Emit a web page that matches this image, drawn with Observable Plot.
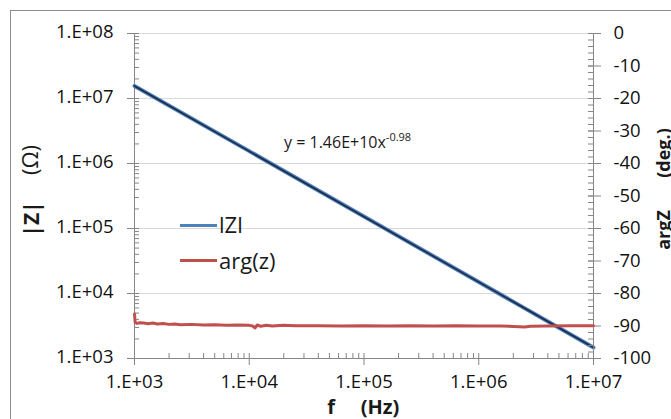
<!DOCTYPE html>
<html><head><meta charset="utf-8">
<script src="https://cdn.jsdelivr.net/npm/d3@7"></script>
<script src="https://cdn.jsdelivr.net/npm/@observablehq/plot@0.6"></script>
<style>
body{margin:0;background:#fff;font-family:"Open Sans",sans-serif;}
#wrap{position:relative;width:671px;height:419px;overflow:hidden;background:#fff;}
#wrap svg{position:absolute;left:0;top:0;}
.abs{position:absolute;white-space:pre;color:#1a1a1a;line-height:1;}
.border{position:absolute;left:10px;top:10px;width:800px;height:600px;border:1.5px solid #8c8c8c;}
.sw{position:absolute;height:3px;width:37px;}
</style></head><body><div id="wrap"><div class="border"></div></div><script>
// |Z| data
const zFreq = [1e3, 1e4, 1e5, 1e6, 1e7];
const zMag = [1.56e7, 1.55e6, 1.53e5, 1.5e4, 1.48e3];
// power-law trendline as drawn
const trendFreq = [1e3, 1e7];
const trendMag = [1.56e7, 1.48e3];
// arg(z) data (deg.)
const argFreq = [1000, 1012, 1047, 1122, 1202, 1318, 1445, 1585, 1778, 1995,
  2239, 2512, 3162, 3981, 5012, 6310, 7943, 10000, 10720, 11220,
  11750, 12590, 14130, 15850, 19950, 25120, 39810, 63100, 100000, 158500,
  251200, 398100, 631000, 1000000, 1585000, 2512000, 2818000, 3981000, 6310000, 10000000];
const argDeg = [-86.3, -88.8, -89.2, -89.0, -89.1, -89.3, -89.1, -89.4, -89.2, -89.5,
  -89.4, -89.6, -89.5, -89.7, -89.6, -89.8, -89.7, -89.8, -90.0, -90.6,
  -89.7, -90.1, -89.8, -90.0, -89.8, -89.9, -89.9, -90.0, -89.9, -90.0,
  -89.9, -90.0, -89.9, -90.0, -90.0, -90.3, -90.1, -90.0, -89.9, -89.9];
// ticks
const xTicks = [1e3, 1e4, 1e5, 1e6, 1e7];
const xTickLabels = ["1.E+03", "1.E+04", "1.E+05", "1.E+06", "1.E+07"];
const zTicks = [1e3, 1e4, 1e5, 1e6, 1e7, 1e8];
const zTickLabels = ["1.E+03", "1.E+04", "1.E+05", "1.E+06", "1.E+07", "1.E+08"];
const argTicks = [0, -10, -20, -30, -40, -50, -60, -70, -80, -90, -100];
const argTickLabels = ["0", "-10", "-20", "-30", "-40", "-50", "-60", "-70", "-80", "-90", "-100"];

const minorLog = (lo, hi) => { const r = []; for (let d = lo; d < hi; d *= 10) for (let k = 2; k <= 9; k++) r.push(d * k); return r; };
const xMinor = minorLog(1e3, 1e7);
const zMinor = minorLog(1e3, 1e8);
const argMinor = d3.range(-100, 0.1, 2);

const zTable = zFreq.map((f, i) => ({f, z: zMag[i]}));
const trendTable = trendFreq.map((f, i) => ({f, z: trendMag[i]}));
const argTable = argFreq.map((f, i) => ({f, a: argDeg[i]}));
const xLabTable = xTicks.map((v, i) => ({v, t: xTickLabels[i]}));
const zLabTable = zTicks.map((v, i) => ({v, t: zTickLabels[i]}));
const aLabTable = argTicks.map((v, i) => ({v, t: argTickLabels[i]}));

const AX = "#868686", TXT = "#111";
const common = {width: 671, height: 419, marginLeft: 134, marginRight: 78, marginTop: 33, marginBottom: 61,
  style: {fontFamily: '"Open Sans", sans-serif', fontSize: "18px", background: "transparent", overflow: "visible"}};
const none = () => "";

const p1 = Plot.plot({...common,
  x: {type: "log", domain: [1e3, 1e7]},
  y: {type: "log", domain: [1e3, 1e8]},
  marks: [
    Plot.ruleY(zTicks.slice(1), {stroke: "#d9d9d9", strokeWidth: 1}),
    Plot.ruleX([1e3], {stroke: AX}),
    Plot.ruleY([1e3], {stroke: AX}),
    Plot.axisY(zMinor, {anchor: "left", tickSize: 5, dx: 5, tickFormat: none, stroke: AX, label: null}),
    Plot.axisY(zTicks, {anchor: "left", tickSize: 12, dx: 5, tickFormat: none, stroke: AX, label: null}),
    Plot.text(zLabTable, {y: "v", text: "t", frameAnchor: "left", dx: -21, dy: -1, textAnchor: "end", fill: TXT, fontSize: 18.5}),
    Plot.axisX(xMinor, {anchor: "bottom", tickSize: 5, dy: -5, tickFormat: none, stroke: AX, label: null}),
    Plot.axisX(xTicks, {anchor: "bottom", tickSize: 12, dy: -5, tickFormat: none, stroke: AX, label: null}),
    Plot.text(xLabTable, {x: "v", text: "t", frameAnchor: "bottom", dy: 29, fill: TXT, fontSize: 18.5}),
    Plot.line(zTable, {x: "f", y: "z", stroke: "#4f81bd", strokeWidth: 4}),
    Plot.line(trendTable, {x: "f", y: "z", stroke: "#1c2b48", strokeWidth: 1.6})
  ]
});

const p2 = Plot.plot({...common,
  x: {type: "log", domain: [1e3, 1e7], axis: null},
  y: {domain: [-100, 0]},
  marks: [
    Plot.ruleX([1e7], {stroke: AX}),
    Plot.axisY(argMinor, {anchor: "right", tickSize: 6, dx: -6, tickFormat: none, stroke: AX, label: null}),
    Plot.axisY(argTicks, {anchor: "right", tickSize: 13, dx: -6, tickFormat: none, stroke: AX, label: null}),
    Plot.text(aLabTable, {y: "v", text: "t", frameAnchor: "right", dx: 20, textAnchor: "start", fill: TXT, fontSize: 18.5}),
    Plot.line(argTable, {x: "f", y: "a", stroke: "#c0504d", strokeWidth: 3})
  ]
});

const wrap = document.getElementById("wrap");
wrap.appendChild(p1);
wrap.appendChild(p2);

function add(html, css) {
  const d = document.createElement("div");
  d.className = "abs";
  d.innerHTML = html;
  Object.assign(d.style, css);
  wrap.appendChild(d);
  return d;
}
// axis titles
add('<b>f</b>', {left: "331px", top: "407px", fontSize: "20px", transform: "translate(-50%,-50%)"});
add('<b>(Hz)</b>', {left: "380px", top: "407px", fontSize: "20px", transform: "translate(-50%,-50%)"});
add('<b>|Z|</b>', {left: "31px", top: "219px", fontSize: "21px", transform: "translate(-50%,-50%) rotate(-90deg)"});
add('(Ω)', {left: "29px", top: "160px", fontSize: "22px", transform: "translate(-50%,-50%) rotate(-90deg)"});
add('<b>argZ</b>', {left: "663px", top: "230px", fontSize: "18px", transform: "translate(-50%,-50%) rotate(-90deg)"});
add('<b>(deg.)</b>', {left: "663px", top: "153px", fontSize: "18px", transform: "translate(-50%,-50%) rotate(-90deg)"});
// legend
const s1 = document.createElement("div"); s1.className = "sw"; Object.assign(s1.style, {left: "180px", top: "224px", background: "#4f81bd"}); wrap.appendChild(s1);
const s2 = document.createElement("div"); s2.className = "sw"; Object.assign(s2.style, {left: "180px", top: "259px", background: "#c0504d"}); wrap.appendChild(s2);
add('lZl', {left: "219px", top: "225px", fontSize: "22px", transform: "translateY(-55%)"});
add('arg(z)', {left: "219px", top: "261px", fontSize: "22px", transform: "translateY(-55%)"});
// trendline equation
add('y = 1.46E+10x<sup style="font-size:11px;vertical-align:7px">-0.98</sup>', {left: "284px", top: "140px", fontSize: "16px", transform: "translateY(-50%)"});
</script></body></html>
